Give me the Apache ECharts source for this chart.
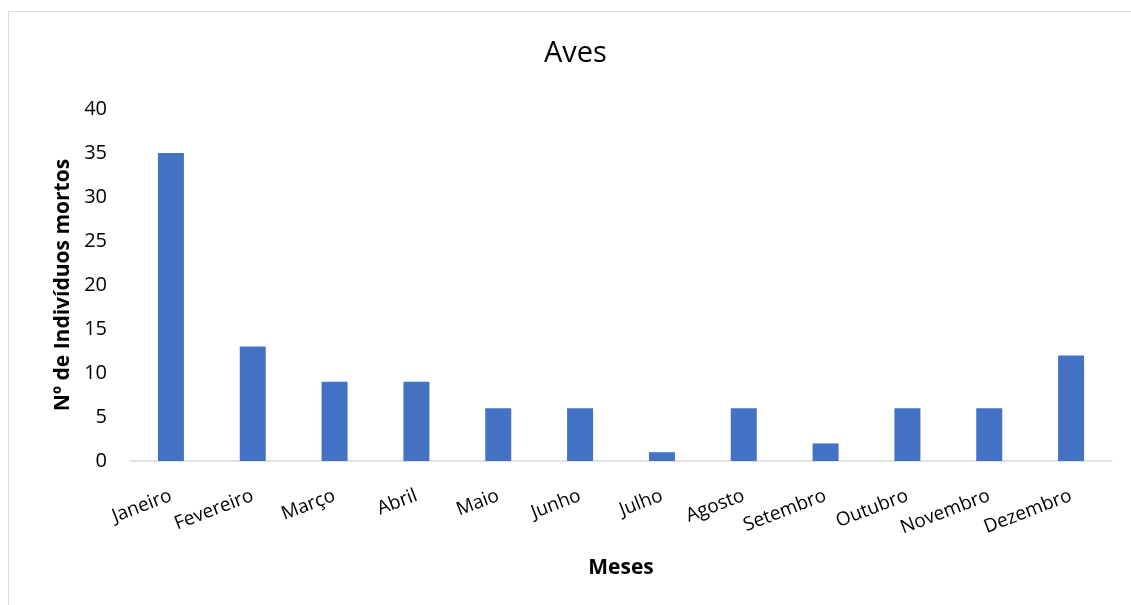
<!DOCTYPE html>
<html><head><meta charset="utf-8">
<script src="https://cdn.jsdelivr.net/npm/echarts@6/dist/echarts.min.js"></script>
<style>html,body{margin:0;padding:0;background:#fff}#c{width:1131px;height:605px}</style>
</head><body><div id="c"></div>
<script>
const categories = ['Janeiro','Fevereiro','Março','Abril','Maio','Junho','Julho','Agosto','Setembro','Outubro','Novembro','Dezembro'];
const values = [35,13,9,9,6,6,1,6,2,6,6,12];
const chartTitle = 'Aves';
const yName = 'Nº de Indivíduos mortos';
const xName = 'Meses';
const font = '"Open Sans", "Noto Sans", sans-serif';
const chart = echarts.init(document.getElementById('c'));
chart.setOption({
  animation: false,
  backgroundColor: '#fff',
  graphic: [{type:'rect', shape:{x:8.5,y:11.5,width:1140,height:620}, style:{fill:'none', stroke:'#d9d9d9', lineWidth:1}, silent:true}],
  title: {text: chartTitle, left: 539, top: 34, textStyle:{fontFamily:font, fontSize:29, fontWeight:'normal', color:'#000'}},
  grid: {left:130, right:19, top:109, bottom:144},
  xAxis: {
    type:'category', data: categories,
    name: xName, nameLocation:'middle', nameGap:97,
    nameTextStyle:{fontFamily:font, fontSize:21, fontWeight:'bold', color:'#000'},
    axisLine:{lineStyle:{color:'#d9d9d9', width:1.5}},
    axisTick:{show:false},
    axisLabel:{rotate:21, margin:34, fontFamily:font, fontSize:19, color:'#000', interval:0}
  },
  yAxis: {
    type:'value', min:0, max:40, interval:5,
    name: yName, nameLocation:'middle', nameGap:56,
    nameTextStyle:{fontFamily:font, fontSize:21, fontWeight:'bold', color:'#000'},
    axisLine:{show:false}, axisTick:{show:false}, splitLine:{show:false},
    axisLabel:{fontFamily:font, fontSize:20, color:'#000', margin:23}
  },
  series: [{type:'bar', data: values, barWidth:26, itemStyle:{color:'#4472c4'}}]
});
</script></body></html>
